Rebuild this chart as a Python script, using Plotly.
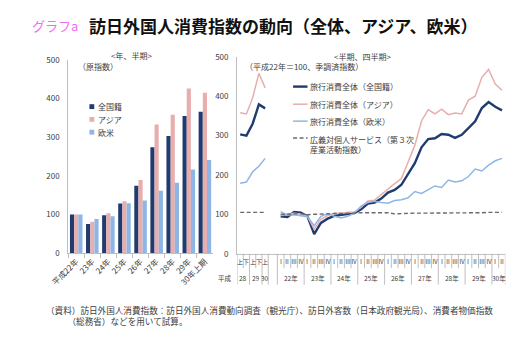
import plotly.graph_objects as go

FONT = "Noto Sans CJK JP"
W, H = 515, 339

# ---- 原指数（年・半期） ----
bar_cats = ["平成22年", "23年", "24年", "25年", "26年", "27年", "28年", "29年", "30年上期"]
bar_all = [100, 75, 98, 128, 174, 274, 303, 355, 366]
bar_asia = [100, 81, 103, 134, 189, 333, 358, 426, 415]
bar_west = [100, 88, 95, 129, 136, 161, 182, 216, 241]

# ---- 季調済指数（半期） ----
half_labels = ["上", "下", "上", "下", "上"]
half_years = ["28", "29", "30"]
half_year_span = [2, 2, 1]
half_all = [303, 300, 330, 379, 369]
half_asia = [358, 355, 396, 458, 421]
half_west = [179, 182, 208, 222, 242]
half_serv = [105, 105, 105, 105, 105]

# ---- 季調済指数（四半期） ----
q_labels = ["Ⅰ", "Ⅱ", "Ⅲ", "Ⅳ"] * 8 + ["Ⅰ", "Ⅱ"]
q_years = ["22年", "23年", "24年", "25年", "26年", "27年", "28年", "29年", "30年"]
q_year_span = [4, 4, 4, 4, 4, 4, 4, 4, 2]
q_all = [95, 93, 106, 104, 95, 50, 78, 89, 96, 98, 100, 103, 113, 127, 130, 140, 155,
         162, 175, 203, 230, 270, 291, 293, 304, 302, 294, 302, 318, 336, 370, 385, 373, 364]
q_asia = [97, 101, 103, 101, 95, 62, 87, 97, 103, 103, 105, 105, 118, 134, 136, 150, 166,
          178, 191, 233, 275, 337, 366, 355, 367, 353, 357, 355, 390, 400, 448, 468, 431, 415]
q_west = [107, 98, 99, 97, 94, 71, 95, 101, 95, 91, 95, 103, 121, 130, 133, 130, 128,
          135, 137, 142, 158, 153, 163, 172, 168, 187, 182, 185, 196, 215, 210, 225, 236, 242]
q_serv = [100, 101, 101, 101, 99, 100, 101, 102, 102, 102, 103, 103, 104, 104, 104, 105, 104,
          101, 102, 102, 103, 103, 103, 103, 103, 103, 103, 104, 104, 104, 104, 105, 105, 105]

C_ALL = "#1F3B70"
C_ASIA = "#E8AEAE"
C_WEST = "#8DB6E6"
C_SERV = "#6A6A6A"
C_AXIS = "#BFBFBF"
C_TEXT = "#404040"


def px(x):
    return x / W


def py(y):
    return 1 - y / H


# positions on the right-hand x axis: half-year cells, a gap, then quarter cells
HALF_W = 0.93
Q_START = 6.0
half_x = [HALF_W * (k + 0.5) for k in range(len(half_labels))]
q_x = [Q_START + i + 0.5 for i in range(len(q_labels))]

fig = go.Figure()

# left: bars
for name, vals, col in [("全国籍", bar_all, C_ALL), ("アジア", bar_asia, C_ASIA), ("欧米", bar_west, C_WEST)]:
    fig.add_trace(go.Bar(x=bar_cats, y=vals, name=name, marker_color=col,
                         marker_line_width=0, xaxis="x", yaxis="y", showlegend=False))

# right: lines
series = [
    (half_all, q_all, C_ALL, 2.4, None),
    (half_asia, q_asia, C_ASIA, 1.5, None),
    (half_west, q_west, C_WEST, 1.5, None),
    (half_serv, q_serv, C_SERV, 1.4, "4px,2.5px"),
]
for hv, qv, col, w, dash in series:
    for xs, ys in [(half_x, hv), (q_x, qv)]:
        fig.add_trace(go.Scatter(x=xs, y=ys, mode="lines", xaxis="x2", yaxis="y2",
                                 line=dict(color=col, width=w, dash=dash), showlegend=False,
                                 hoverinfo="skip"))

tickfont = dict(family=FONT, size=8, color=C_TEXT)

fig.update_layout(
    width=W, height=H,
    margin=dict(l=0, r=0, t=0, b=0),
    paper_bgcolor="white", plot_bgcolor="white",
    barmode="group", bargap=0.22, bargroupgap=0,
    font=dict(family=FONT, color=C_TEXT),
    xaxis=dict(domain=[px(52), px(202)], type="category", showline=True, linecolor=C_AXIS,
               linewidth=1, ticks="outside", tickson="boundaries", ticklen=4, tickcolor=C_AXIS,
               tickangle=-45, tickfont=tickfont, showgrid=False, zeroline=False),
    yaxis=dict(domain=[py(255.3), py(55.7)], range=[0, 500], dtick=100, showline=True,
               linecolor=C_AXIS, showgrid=False, zeroline=False, tickfont=tickfont, ticks="",
               ticklabelstandoff=6),
    xaxis2=dict(domain=[px(227), px(505)], range=[0, 40], showline=True, linecolor=C_AXIS,
                showticklabels=False, ticks="", showgrid=False, zeroline=False, anchor="y2"),
    yaxis2=dict(domain=[py(256), py(52.5)], range=[0, 500], dtick=100, showline=True,
                linecolor=C_AXIS, showgrid=False, zeroline=False, tickfont=tickfont, ticks="",
                anchor="x2", ticklabelstandoff=6),
)

ann = []
shapes = []

# titles
ann.append(dict(text="グラフa", x=px(12), y=py(20), xref="paper", yref="paper", xanchor="left",
                yanchor="middle", showarrow=False, font=dict(family=FONT, size=13, color="#F06EF0")))
ann.append(dict(text="<b>訪日外国人消費指数の動向（全体、アジア、欧米）</b>", x=px(72), y=py(20),
                xref="paper", yref="paper", xanchor="left", yanchor="middle", showarrow=False,
                font=dict(family=FONT, size=17, color="#111111")))

small = dict(family=FONT, size=8, color=C_TEXT)
ann.append(dict(text="<年、半期>", x=px(118), y=py(51), xref="paper", yref="paper",
                xanchor="center", yanchor="middle", showarrow=False, font=small))
ann.append(dict(text="（原指数）", x=px(60), y=py(63), xref="paper", yref="paper",
                xanchor="left", yanchor="middle", showarrow=False, font=small))
ann.append(dict(text="<半期、四半期>", x=px(357), y=py(52), xref="paper", yref="paper",
                xanchor="center", yanchor="middle", showarrow=False, font=small))
ann.append(dict(text="（平成22年＝100、季調済指数）", x=px(233), y=py(63), xref="paper", yref="paper",
                xanchor="left", yanchor="middle", showarrow=False, font=small))

# left legend
for i, (name, col) in enumerate([("全国籍", C_ALL), ("アジア", C_ASIA), ("欧米", C_WEST)]):
    yc = 104 + i * 13.2
    shapes.append(dict(type="rect", xref="paper", yref="paper", x0=px(74), x1=px(79),
                       y0=py(yc + 2.5), y1=py(yc - 2.5), fillcolor=col, line=dict(width=0)))
    ann.append(dict(text=name, x=px(80.5), y=py(yc), xref="paper", yref="paper", xanchor="left",
                    yanchor="middle", showarrow=False, font=small))

# right legend
leg = [("旅行消費全体（全国籍）", C_ALL, 2.4, None, 83.3),
       ("旅行消費全体（アジア）", C_ASIA, 1.5, None, 101.5),
       ("旅行消費全体（欧米）", C_WEST, 1.5, None, 119),
       ("広義対個人サービス（第３次<br>産業活動指数）", C_SERV, 1.4, "4px,2.5px", 136.5)]
for text, col, w, dash, yc in leg:
    shapes.append(dict(type="line", xref="paper", yref="paper", x0=px(285), x1=px(300),
                       y0=py(yc), y1=py(yc), line=dict(color=col, width=w, dash=dash)))
    ann.append(dict(text=text, x=px(301), y=py(yc + 6.5 if "<br>" in text else yc), xref="paper",
                    yref="paper", xanchor="left", yanchor="middle", showarrow=False, align="left",
                    font=small))

# right x axis: two-row labels with cell separators
Y_AX = py(256)
Y_R1 = py(271)
Y_R2 = py(288)
row1_font = dict(family=FONT, size=6, color=C_TEXT)
row2_font = dict(family=FONT, size=6.5, color=C_TEXT)


def vline(x, long):
    shapes.append(dict(type="line", xref="x2", yref="paper", x0=x, x1=x, y0=Y_AX,
                       y1=Y_R2 if long else Y_R1, line=dict(color=C_AXIS, width=1)))


for x, lab in zip(half_x, half_labels):
    ann.append(dict(text=lab, x=x, y=py(264), xref="x2", yref="paper", xanchor="center",
                    yanchor="middle", showarrow=False, font=row1_font))
for x, lab in zip(q_x, q_labels):
    ann.append(dict(text=lab, x=x, y=py(264), xref="x2", yref="paper", xanchor="center",
                    yanchor="middle", showarrow=False, font=row1_font))

# half-year groups
k = 0
vline(0, True)
for yr, span in zip(half_years, half_year_span):
    for j in range(1, span):
        vline(HALF_W * (k + j), False)
    ann.append(dict(text=yr, x=HALF_W * (k + span / 2), y=py(281), xref="x2", yref="paper",
                    xanchor="center", yanchor="middle", showarrow=False, font=row2_font))
    k += span
    vline(HALF_W * k, True)

# quarter groups
k = 0
vline(Q_START, True)
for yr, span in zip(q_years, q_year_span):
    for j in range(1, span):
        vline(Q_START + k + j, False)
    ann.append(dict(text=yr, x=Q_START + k + span / 2, y=py(281), xref="x2", yref="paper",
                    xanchor="center", yanchor="middle", showarrow=False, font=row2_font))
    k += span
    vline(Q_START + k, True)

ann.append(dict(text="平成", x=px(215), y=py(281), xref="paper", yref="paper", xanchor="center",
                yanchor="middle", showarrow=False, font=row2_font))

# source note (second line indented under the first)
note = dict(family=FONT, size=8.6, color=C_TEXT)
ann.append(dict(text="（資料）訪日外国人消費指数：訪日外国人消費動向調査（観光庁）、訪日外客数（日本政府観光局）、消費者物価指数"
                     "<br>　　　（総務省）などを用いて試算。",
                x=px(27), y=py(319.5), xref="paper", yref="paper", xanchor="left", yanchor="middle",
                align="left", showarrow=False, font=note))

fig.update_layout(annotations=ann, shapes=shapes)
fig.write_html("out.html")
